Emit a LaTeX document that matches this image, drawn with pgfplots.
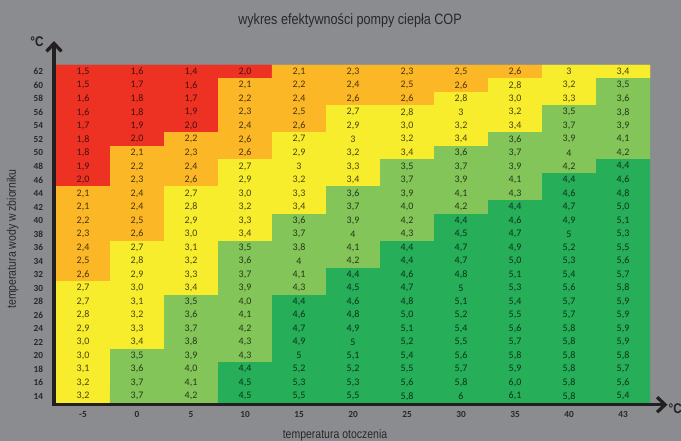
\documentclass[border=0pt]{standalone}
\usepackage{fontspec}
\setmainfont{Carlito}
\newfontfamily\condfont[FakeStretch=0.84]{Liberation Sans}
\usepackage{pgfplots}
\pgfplotsset{compat=1.18}
\usepackage{pgfplotstable}
\usetikzlibrary{arrows.meta}
\definecolor{bg}{RGB}{138,140,143}
\definecolor{axc}{RGB}{35,31,32}
\definecolor{txtc}{RGB}{40,40,40}

\pgfplotstableread{
c r v
0 62 1.5
1 62 1.6
2 62 1.4
3 62 2.0
4 62 2.1
5 62 2.3
6 62 2.3
7 62 2.5
8 62 2.6
9 62 3
10 62 3.4
0 60 1.5
1 60 1.7
2 60 1.6
3 60 2.1
4 60 2.2
5 60 2.4
6 60 2.5
7 60 2.6
8 60 2.8
9 60 3.2
10 60 3.5
0 58 1.6
1 58 1.8
2 58 1.7
3 58 2.2
4 58 2.4
5 58 2.6
6 58 2.6
7 58 2.8
8 58 3.0
9 58 3.3
10 58 3.6
0 56 1.6
1 56 1.8
2 56 1.9
3 56 2.3
4 56 2.5
5 56 2.7
6 56 2.8
7 56 3
8 56 3.2
9 56 3.5
10 56 3.8
0 54 1.7
1 54 1.9
2 54 2.0
3 54 2.4
4 54 2.6
5 54 2.9
6 54 3.0
7 54 3.2
8 54 3.4
9 54 3.7
10 54 3.9
0 52 1.8
1 52 2.0
2 52 2.2
3 52 2.6
4 52 2.7
5 52 3
6 52 3.2
7 52 3.4
8 52 3.6
9 52 3.9
10 52 4.1
0 50 1.8
1 50 2.1
2 50 2.3
3 50 2.6
4 50 2.9
5 50 3.2
6 50 3.4
7 50 3.6
8 50 3.7
9 50 4
10 50 4.2
0 48 1.9
1 48 2.2
2 48 2.4
3 48 2.7
4 48 3
5 48 3.3
6 48 3.5
7 48 3.7
8 48 3.9
9 48 4.2
10 48 4.4
0 46 2.0
1 46 2.3
2 46 2.6
3 46 2.9
4 46 3.2
5 46 3.4
6 46 3.7
7 46 3.9
8 46 4.1
9 46 4.4
10 46 4.6
0 44 2.1
1 44 2.4
2 44 2.7
3 44 3.0
4 44 3.3
5 44 3.6
6 44 3.9
7 44 4.1
8 44 4.3
9 44 4.6
10 44 4.8
0 42 2.1
1 42 2.4
2 42 2.8
3 42 3.2
4 42 3.4
5 42 3.7
6 42 4.0
7 42 4.2
8 42 4.4
9 42 4.7
10 42 5.0
0 40 2.2
1 40 2.5
2 40 2.9
3 40 3.3
4 40 3.6
5 40 3.9
6 40 4.2
7 40 4.4
8 40 4.6
9 40 4.9
10 40 5.1
0 38 2.3
1 38 2.6
2 38 3.0
3 38 3.4
4 38 3.7
5 38 4
6 38 4.3
7 38 4.5
8 38 4.7
9 38 5
10 38 5.3
0 36 2.4
1 36 2.7
2 36 3.1
3 36 3.5
4 36 3.8
5 36 4.1
6 36 4.4
7 36 4.7
8 36 4.9
9 36 5.2
10 36 5.5
0 34 2.5
1 34 2.8
2 34 3.2
3 34 3.6
4 34 4
5 34 4.2
6 34 4.4
7 34 4.7
8 34 5.0
9 34 5.3
10 34 5.6
0 32 2.6
1 32 2.9
2 32 3.3
3 32 3.7
4 32 4.1
5 32 4.4
6 32 4.6
7 32 4.8
8 32 5.1
9 32 5.4
10 32 5.7
0 30 2.7
1 30 3.0
2 30 3.4
3 30 3.9
4 30 4.3
5 30 4.5
6 30 4.7
7 30 5
8 30 5.3
9 30 5.6
10 30 5.8
0 28 2.7
1 28 3.1
2 28 3.5
3 28 4.0
4 28 4.4
5 28 4.6
6 28 4.8
7 28 5.1
8 28 5.4
9 28 5.7
10 28 5.9
0 26 2.8
1 26 3.2
2 26 3.6
3 26 4.1
4 26 4.6
5 26 4.8
6 26 5.0
7 26 5.2
8 26 5.5
9 26 5.7
10 26 5.9
0 24 2.9
1 24 3.3
2 24 3.7
3 24 4.2
4 24 4.7
5 24 4.9
6 24 5.1
7 24 5.4
8 24 5.6
9 24 5.8
10 24 5.9
0 22 3.0
1 22 3.4
2 22 3.8
3 22 4.3
4 22 4.9
5 22 5
6 22 5.2
7 22 5.5
8 22 5.7
9 22 5.8
10 22 5.9
0 20 3.0
1 20 3.5
2 20 3.9
3 20 4.3
4 20 5
5 20 5.1
6 20 5.4
7 20 5.6
8 20 5.8
9 20 5.8
10 20 5.8
0 18 3.1
1 18 3.6
2 18 4.0
3 18 4.4
4 18 5.2
5 18 5.2
6 18 5.5
7 18 5.7
8 18 5.9
9 18 5.8
10 18 5.7
0 16 3.2
1 16 3.7
2 16 4.1
3 16 4.5
4 16 5.3
5 16 5.3
6 16 5.6
7 16 5.8
8 16 6.0
9 16 5.8
10 16 5.6
0 14 3.2
1 14 3.7
2 14 4.2
3 14 4.5
4 14 5.5
5 14 5.5
6 14 5.8
7 14 6
8 14 6.1
9 14 5.8
10 14 5.4
}\copdata

\def\copfmt#1.#2.#3\relax{#1\ifx\relax#2\relax\else,#2\fi}

\begin{document}
\begin{tikzpicture}
\useasboundingbox (0,0) rectangle (681pt,441pt);
\fill[bg] (0,0) rectangle (681pt,441pt);
\begin{axis}[
  at={(56pt,38pt)}, anchor=south west,
  scale only axis, width=594pt, height=338pt,
  xmin=-0.5, xmax=10.5, ymin=13, ymax=63,
  axis line style={draw=none},
  major tick length=0pt,
  xtick={0,...,10},
  xticklabels={-5,0,5,10,15,20,25,30,35,40,43},
  ytick={14,16,...,62},
  /pgf/number format/assume math mode=true,
  ticklabel style={font=\bfseries\fontsize{9.3}{10}\selectfont, text=txtc},
  xticklabel style={yshift=-5pt},
  yticklabel style={xshift=-9.5pt},
  colormap={cop}{rgb255=(237,50,36) rgb255=(251,183,38) rgb255=(248,237,45) rgb255=(132,197,90) rgb255=(38,174,89)},
  point meta min=0, point meta max=4,
]
\addplot[matrix plot*, mesh/cols=11,
  point meta={(\thisrow{v}>2.05)+(\thisrow{v}>2.65)+(\thisrow{v}>3.45)+(\thisrow{v}>4.35)}]
  table[x=c,y=r] {\copdata};
\addplot[draw=none, mark=none, point meta=explicit symbolic,
  nodes near coords={\edef\tmpv{\pgfplotspointmeta}\expandafter\copfmt\tmpv..\relax},
  every node near coord/.append style={anchor=center, inner sep=0pt, font=\fontsize{10}{11}\selectfont, text=black, text opacity=0.72}]
  table[x=c,y=r,meta=v] {\copdata};
\end{axis}
\draw[line width=3.3pt, axc, -{Straight Barb[length=8pt,width=15pt]}] (54pt,34.6pt) -- (54pt,400pt);
\draw[line width=3.3pt, axc, -{Straight Barb[length=8pt,width=15pt]}] (52.4pt,36.3pt) -- (667.5pt,36.3pt);
\node[font=\condfont\fontsize{15}{17}\selectfont, text=txtc] at (350pt,420pt) {wykres efektywności pompy ciepła COP};
\node[font=\condfont\fontsize{12.5}{14}\selectfont, text=txtc, anchor=base] at (335pt,2.5pt) {temperatura otoczenia};
\node[font=\condfont\fontsize{12.5}{14}\selectfont, text=txtc, anchor=base, rotate=90] at (16pt,202pt) {temperatura wody w zbiorniku};
\node[font=\condfont\bfseries\fontsize{14}{16}\selectfont, text=axc] at (37pt,399pt) {°C};
\node[font=\condfont\bfseries\fontsize{14}{16}\selectfont, text=axc, anchor=west, inner sep=0pt] at (668.5pt,32pt) {°C};
\end{tikzpicture}
\end{document}
